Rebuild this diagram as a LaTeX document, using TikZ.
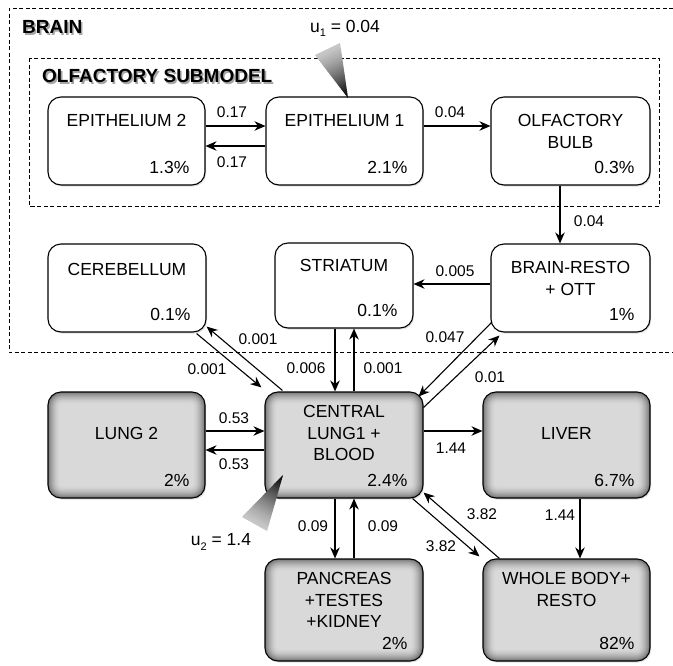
\documentclass[tikz,border=0pt]{standalone}
\usepackage{fontspec}
\setmainfont{Liberation Sans}
\usetikzlibrary{arrows.meta,shadows,calc}
\newcommand\shtext[1]{\makebox[0pt][l]{\kern1.6pt\raisebox{-1.6pt}{\textcolor{gray!70}{#1}}}#1}
\newcommand\ssub[1]{\raisebox{-0.45ex}{\fontsize{11}{11}\selectfont #1}}
\begin{document}
\begin{tikzpicture}[x=1pt,y=-1pt,
  box/.style={draw, line width=1.1pt, rounded corners=13pt, inner sep=0pt, fill=white,
     drop shadow={shadow xshift=1.2pt, shadow yshift=-1.5pt, opacity=0.25}},
  graybox/.style={box, fill=gray!30, path picture={
     \foreach \i in {0,1,...,12}{
       \pgfmathsetmacro\c{30+75*(1-\i/12)^1.7}
       \pgfmathsetmacro\r{max(14-\i,2)}
       \fill[gray!\c, rounded corners=\r pt]
         ([shift={(\i,\i)}]path picture bounding box.north west) rectangle
         ([shift={(-\i,-\i)}]path picture bounding box.south east);
     }}},
  txt/.style={font=\fontsize{17.5}{21.5}\selectfont, align=center, inner sep=0pt, anchor=north},
  pct/.style={font=\fontsize{17.5}{20}\selectfont, inner sep=0pt, anchor=base east},
  lab/.style={font=\fontsize{15.5}{18}\selectfont, inner sep=0pt},
  arr/.style={line width=1.1pt, -{Stealth[length=11pt,width=9.5pt,inset=3.5pt]}},
  dbox/.style={line width=0.9pt, dash pattern=on 4pt off 2.5pt},
  ttl/.style={font=\fontsize{19}{22}\selectfont\bfseries, inner sep=0pt, anchor=west},
]
\useasboundingbox (0,0) rectangle (673,665);

% dashed regions
\draw[dbox] (673,8) -- (9,8) -- (9,352) -- (673,352);
\draw[dbox] (29,58) rectangle (659,206);
\node[ttl] (brain) at (22,28) {\shtext{BRAIN}};
\node[ttl] (olf) at (42,77) {\shtext{OLFACTORY SUBMODEL}};

% brain boxes
\node[box, minimum width=157pt, minimum height=88pt] (e2) at (126.5,141) {};
\node[box, minimum width=157pt, minimum height=88pt] (e1) at (344.5,141) {};
\node[box, minimum width=159pt, minimum height=88pt] (ob) at (570.5,141) {};
\node[box, minimum width=158pt, minimum height=88pt] (cb) at (127,288) {};
\node[box, minimum width=138pt, minimum height=85pt] (st) at (344,285.5) {};
\node[box, minimum width=159pt, minimum height=88pt] (br) at (570.5,288) {};

% body boxes
\node[graybox, minimum width=157pt, minimum height=106pt] (lu) at (126.5,445) {};
\node[graybox, minimum width=158pt, minimum height=106pt] (ce) at (344,445) {};
\node[graybox, minimum width=167pt, minimum height=106pt] (li) at (566.5,445) {};
\node[graybox, minimum width=158pt, minimum height=102pt] (pa) at (344,610) {};
\node[graybox, minimum width=167pt, minimum height=102pt] (wb) at (566.5,610) {};

% box texts
\node[txt] (e2t) at ([shift={(0,18)}]e2.north) {EPITHELIUM 2};
\node[txt] (e1t) at ([shift={(0,18)}]e1.north) {EPITHELIUM 1};
\node[txt] (obt) at ([shift={(0,18)}]ob.north) {OLFACTORY\\BULB};
\node[txt] (cbt) at ([shift={(0,20)}]cb.north) {CEREBELLUM};
\node[txt] (stt) at ([shift={(0,17)}]st.north) {STRIATUM};
\node[txt] (brt) at ([shift={(0,18)}]br.north) {BRAIN-RESTO\\+ OTT};
\node[txt] (lut) at ([shift={(0,36)}]lu.north) {LUNG 2};
\node[txt] (cet) at ([shift={(0,14)}]ce.north) {CENTRAL\\LUNG1 +\\BLOOD};
\node[txt] (lit) at ([shift={(0,36)}]li.north) {LIVER};
\node[txt] (pat) at ([shift={(0,14)}]pa.north) {PANCREAS\\+TESTES\\+KIDNEY};
\node[txt] (wbt) at ([shift={(0,14)}]wb.north) {WHOLE BODY+\\RESTO};

\node[pct] (e2p) at ([shift={(-16,-12)}]e2.south east) {1.3\%};
\node[pct] (e1p) at ([shift={(-16,-12)}]e1.south east) {2.1\%};
\node[pct] (obp) at ([shift={(-16,-12)}]ob.south east) {0.3\%};
\node[pct] (cbp) at ([shift={(-16,-12)}]cb.south east) {0.1\%};
\node[pct] (stp) at ([shift={(-16,-12)}]st.south east) {0.1\%};
\node[pct] (brp) at ([shift={(-16,-12)}]br.south east) {1\%};
\node[pct] (lup) at ([shift={(-16,-12)}]lu.south east) {2\%};
\node[pct] (cep) at ([shift={(-16,-12)}]ce.south east) {2.4\%};
\node[pct] (lip) at ([shift={(-16,-12)}]li.south east) {6.7\%};
\node[pct] (pap) at ([shift={(-16,-12)}]pa.south east) {2\%};
\node[pct] (wbp) at ([shift={(-16,-12)}]wb.south east) {82\%};

% connectors
\draw[arr] ([shift={(0,-15)}]e2.east) -- ([shift={(0,-15)}]e1.west);
\draw[arr] ([shift={(0,5)}]e1.west) -- ([shift={(0,5)}]e2.east);
\draw[arr] ([shift={(0,-15)}]e1.east) -- ([shift={(0,-15)}]ob.west);
\draw[arr] ([shift={(-10.5,0)}]ob.south) -- ([shift={(-10.5,0)}]br.north);
\draw[arr] ([shift={(0,-4)}]br.west) -- ([shift={(0,-1.5)}]st.east);
\draw[arr] ([shift={(-10,1)}]cb.south east) -- ([shift={(-3,-4)}]ce.north west);
\draw[arr] ([shift={(18,-1)}]ce.north west) -- ([shift={(0,-6)}]cb.south east);
\draw[arr] ([shift={(-9,0)}]st.south) -- ([shift={(-9,0)}]ce.north);
\draw[arr] ([shift={(10,0)}]ce.north) -- ([shift={(10,0)}]st.south);
\draw[arr] ([shift={(1,-10)}]br.south west) -- ([shift={(-5,5)}]ce.north east);
\draw[arr] ([shift={(0,16)}]ce.north east) -- ([shift={(9,3)}]br.south west);
\draw[arr] ([shift={(0,-14)}]lu.east) -- ([shift={(0,-14)}]ce.west);
\draw[arr] ([shift={(0,5)}]ce.west) -- ([shift={(0,5)}]lu.east);
\draw[arr] ([shift={(0,-14)}]ce.east) -- ([shift={(0,-14)}]li.west);
\draw[arr] ([shift={(13.5,0)}]li.south) -- ([shift={(13.5,0)}]wb.north);
\draw[arr] ([shift={(-9,0)}]ce.south) -- ([shift={(-9,0)}]pa.north);
\draw[arr] ([shift={(10,0)}]pa.north) -- ([shift={(10,0)}]ce.south);
\draw[arr] ([shift={(-11,0)}]ce.south east) -- ([shift={(-3,-2)}]wb.north west);
\draw[arr] ([shift={(17,0)}]wb.north west) -- ([shift={(0,-6)}]ce.south east);

% labels
\node[lab] (l1) at (232,112) {0.17};
\node[lab] (l2) at (232,162) {0.17};
\node[lab] (l3) at (450,112) {0.04};
\node[lab] (l4) at (589,221) {0.04};
\node[lab] (l5) at (455,271) {0.005};
\node[lab] (l6) at (258,339) {0.001};
\node[lab] (l7) at (207,369) {0.001};
\node[lab] (l8) at (306,368) {0.006};
\node[lab] (l9) at (383,368) {0.001};
\node[lab] (l10) at (445,337) {0.047};
\node[lab] (l11) at (490,377) {0.01};
\node[lab] (l12) at (234,418) {0.53};
\node[lab] (l13) at (234,464) {0.53};
\node[lab] (l14) at (451,448) {1.44};
\node[lab] (l15) at (560,515) {1.44};
\node[lab] (l16) at (313,526) {0.09};
\node[lab] (l17) at (383,526) {0.09};
\node[lab] (l18) at (482,514) {3.82};
\node[lab] (l19) at (441,546) {3.82};

% inputs
\node[lab, font=\fontsize{17.5}{20}\selectfont] (u1) at (345,28) {u\ssub{1} = 0.04};
\node[lab, font=\fontsize{17.5}{20}\selectfont] (u2) at (221,542) {u\ssub{2} = 1.4};
\coordinate (w1a) at (315,55); \coordinate (w1b) at (340,43); \coordinate (w1t) at (348,98);
\coordinate (w2a) at (242,517); \coordinate (w2b) at (267,531); \coordinate (w2t) at (283,475);
\foreach \k in {0,...,23}{
  \pgfmathsetmacro\ta{\k/24}
  \pgfmathsetmacro\tb{min((\k+1.3)/24,1)}
  \pgfmathsetmacro\cc{22+78*(\k/23)^1.3}
  \fill[black!\cc] ($(w1a)!\ta!(w1t)$) -- ($(w1b)!\ta!(w1t)$) -- ($(w1b)!\tb!(w1t)$) -- ($(w1a)!\tb!(w1t)$) -- cycle;
  \fill[black!\cc] ($(w2a)!\ta!(w2t)$) -- ($(w2b)!\ta!(w2t)$) -- ($(w2b)!\tb!(w2t)$) -- ($(w2a)!\tb!(w2t)$) -- cycle;
}
\end{tikzpicture}
\end{document}
